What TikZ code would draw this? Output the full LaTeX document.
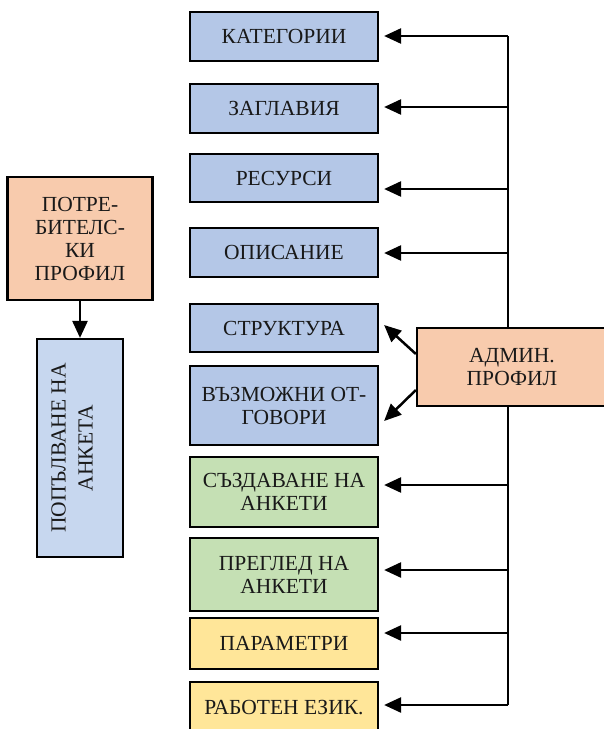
\documentclass[tikz,border=0pt]{standalone}
\usepackage{fontspec}
\setmainfont{Liberation Serif}
\usetikzlibrary{arrows.meta}
\definecolor{cblue}{HTML}{B4C7E7}
\definecolor{clblue}{HTML}{C7D7EF}
\definecolor{corange}{HTML}{F8CBAD}
\definecolor{cgreen}{HTML}{C5E0B4}
\definecolor{cyellow}{HTML}{FFE699}
\tikzset{
  box/.style={draw=black, line width=2.2pt, inner sep=0pt, align=center,
    font=\fontsize{21.5}{23}\selectfont, text=black!90},
  bluebox/.style={box, fill=cblue, minimum width=188pt},
  greenbox/.style={box, fill=cgreen, minimum width=188pt},
  yellowbox/.style={box, fill=cyellow, minimum width=188pt},
  arr/.style={line width=2.5pt, -{Triangle[length=17pt,width=15pt]}},
  bus/.style={line width=2.5pt},
}
\begin{document}
\begin{tikzpicture}[x=1pt,y=-1pt]
\useasboundingbox (0,0) rectangle (604,729);
% left column
\node[box, fill=corange, minimum width=145pt, minimum height=123pt] (user) at (80,238.5) {ПОТРЕ-\\БИТЕЛС-\\КИ\\ПРОФИЛ};
\node[box, fill=clblue, minimum width=86pt, minimum height=218pt] (fill) at (80,448) {};
\node[rotate=90, align=center, font=\fontsize{21.5}{27}\selectfont, text=black!90] (filltxt) at (72,448) {ПОПЪЛВАНЕ НА\\АНКЕТА};
% right column
\node[bluebox, minimum height=49pt] (kat) at (284,36.5) {КАТЕГОРИИ};
\node[bluebox, minimum height=49pt] (zag) at (284,108.5) {ЗАГЛАВИЯ};
\node[bluebox, minimum height=48pt] (res) at (284,178) {РЕСУРСИ};
\node[bluebox, minimum height=49pt] (opi) at (284,252.5) {ОПИСАНИЕ};
\node[bluebox, minimum height=48pt] (str) at (284,328) {СТРУКТУРА};
\node[bluebox, minimum height=79pt] (vaz) at (284,405.5) {ВЪЗМОЖНИ ОТ-\\ГОВОРИ};
\node[greenbox, minimum height=70pt] (sazd) at (284,492) {СЪЗДАВАНЕ НА\\АНКЕТИ};
\node[greenbox, minimum height=73pt] (pregl) at (284,574.5) {ПРЕГЛЕД НА\\АНКЕТИ};
\node[yellowbox, minimum height=51pt] (par) at (284,643.5) {ПАРАМЕТРИ};
\node[yellowbox, minimum height=52pt] (rab) at (284,708) {РАБОТЕН ЕЗИК.};
% bus
\coordinate (bK) at (508,36);
\coordinate (bZ) at (508,107);
\coordinate (bR) at (508,189);
\coordinate (bO) at (508,253);
\coordinate (bS) at (508,485);
\coordinate (bP) at (508,570);
\coordinate (bPa) at (508,633);
\coordinate (bRa) at (508,705);
\draw[bus] (bK) -- (bRa);
% admin
\node[box, fill=corange, minimum width=190pt, minimum height=78pt] (adm) at (512,367) {АДМИН.\\ПРОФИЛ};
% arrows
\foreach \b/\n in {bK/kat, bZ/zag, bR/res, bO/opi, bS/sazd, bP/pregl, bPa/par, bRa/rab}
  \draw[arr, shorten >=5pt] (\b) -- (\b -| \n.east);
\draw[arr] ([yshift=13pt]adm.west) -- ([xshift=5pt,yshift=3pt]str.east);
\draw[arr] ([yshift=-23pt]adm.west) -- ([xshift=5pt,yshift=-15.5pt]vaz.east);
\draw[arr] (user.south) -- (fill.north);
\end{tikzpicture}
\end{document}
